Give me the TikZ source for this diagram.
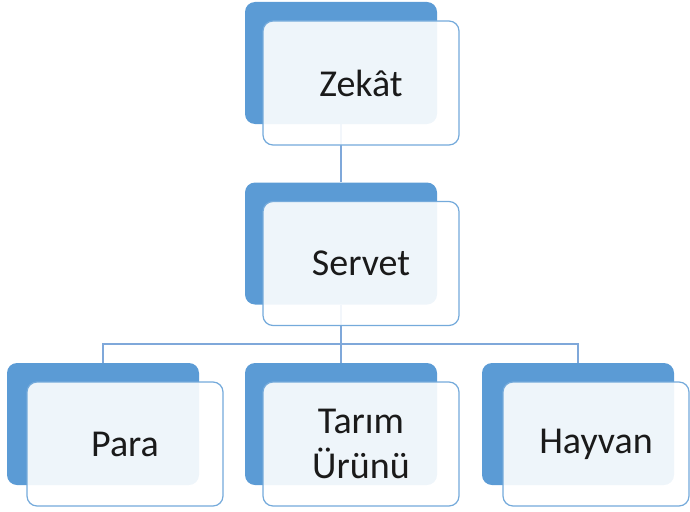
\documentclass[tikz,border=0pt]{standalone}
\usepackage{fontspec}
\setmainfont{Carlito}
\usetikzlibrary{backgrounds}
\definecolor{acc}{HTML}{5B9BD5}
\definecolor{lnk}{HTML}{7FA8DA}
\definecolor{txt}{HTML}{1A1A1A}
\begin{document}
\begin{tikzpicture}[x=1pt,y=-1pt,
  backbox/.style={rectangle, rounded corners=10pt, fill=acc, draw=none, inner sep=0pt,
    minimum width=192pt, minimum height=122pt},
  frontbox/.style={rectangle, rounded corners=10pt, fill=white, fill opacity=0.9, text opacity=1,
    draw=acc!85!white, line width=1.2pt, inner sep=0pt, minimum width=196pt, minimum height=124pt,
    align=center, text=txt, font=\fontsize{38}{45}\selectfont},
  link/.style={draw=lnk, line width=1.3pt}]
\useasboundingbox (0,0) rectangle (690,511);
% back boxes
\node[backbox] (zb) at (341,63) {};
\node[backbox] (sb) at (341,243.5) {};
\node[backbox] (pb) at (103,424) {};
\node[backbox] (tb) at (341,424) {};
\node[backbox] (hb) at (578,424) {};
% front boxes
\node[frontbox] (zf) at (361,83) {Zekât};
\node[frontbox] (sf) at (361,263.5) {Servet};
\node[frontbox] (pf) at (125,444) {Para};
\node[frontbox] (tf) at (361,444) {Tarım\\Ürünü};
\node[frontbox, minimum width=186pt] (hf) at (596,444) {Hayvan};
\coordinate (bus) at (341,344);
\begin{scope}[on background layer]
\draw[link] (zb.south) -- (sb.north);
\draw[link] (sb.south) -- (bus);
\draw[link] (pb.north) |- (bus) -| (hb.north);
\draw[link] (bus) -- (tb.north);
\end{scope}
\end{tikzpicture}
\end{document}
